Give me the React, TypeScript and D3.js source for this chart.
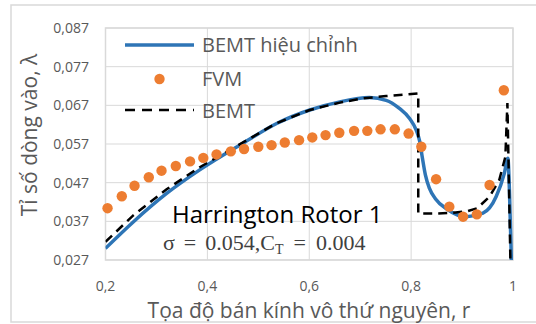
import React from "react";
import * as d3 from "d3";

const W = 536;
const H = 324;

// x ticks / y ticks
const X_TICKS = [0.2, 0.4, 0.6, 0.8, 1];
const X_LABELS = ["0,2", "0,4", "0,6", "0,8", "1"];
const Y_TICKS = [0.027, 0.037, 0.047, 0.057, 0.067, 0.077, 0.087];
const Y_LABELS = ["0,027", "0,037", "0,047", "0,057", "0,067", "0,077", "0,087"];

// FVM points
const FVM_R = [
  0.204, 0.232, 0.257, 0.285, 0.31, 0.338, 0.366, 0.392, 0.418, 0.446,
  0.472, 0.5, 0.526, 0.552, 0.58, 0.606, 0.632, 0.659, 0.688, 0.714,
  0.74, 0.768, 0.795, 0.82, 0.849, 0.875, 0.902, 0.929, 0.954, 0.982,
];
const FVM_L = [
  0.0404, 0.0435, 0.0462, 0.0484, 0.0501, 0.0513, 0.0525, 0.0534, 0.0543, 0.0551,
  0.0557, 0.0563, 0.0567, 0.0574, 0.058, 0.0587, 0.0593, 0.0599, 0.0604, 0.0604,
  0.0608, 0.0608, 0.0597, 0.0563, 0.0479, 0.0408, 0.0382, 0.0388, 0.0464, 0.0709,
];

// BEMT hiệu chỉnh (corrected)
const CORR_R = [
  0.2, 0.255, 0.32, 0.385, 0.47, 0.536, 0.601, 0.66, 0.718, 0.751, 0.777,
  0.797, 0.81, 0.817, 0.822, 0.828, 0.836, 0.848, 0.87, 0.908, 0.941, 0.967,
  0.983, 0.99, 0.993, 0.997,
];
const CORR_L = [
  0.03, 0.0369, 0.0442, 0.0503, 0.0572, 0.0623, 0.0658, 0.0679, 0.069, 0.0683, 0.0662,
  0.0636, 0.0606, 0.0576, 0.0535, 0.049, 0.0455, 0.0428, 0.0402, 0.0382, 0.0391, 0.0434,
  0.0494, 0.0533, 0.045, 0.026,
];

// BEMT
const BEMT_R = [
  0.2, 0.255, 0.32, 0.385, 0.47, 0.536, 0.601, 0.66, 0.705, 0.751, 0.814,
  0.814, 0.85, 0.88, 0.91, 0.93, 0.954, 0.973, 0.985, 0.989, 0.995,
];
const BEMT_L = [
  0.0317, 0.0386, 0.0453, 0.051, 0.0574, 0.0624, 0.0658, 0.0677, 0.0688, 0.0694, 0.0701,
  0.039, 0.039, 0.0392, 0.0396, 0.0404, 0.0434, 0.0477, 0.0537, 0.0676, 0.026,
];

const GRID = "#d9d9d9";
const TXT = "#595959";

export default function App() {
  const x = d3.scaleLinear().domain([0.2, 1]).range([105.5, 513]);
  const y = d3.scaleLinear().domain([0.027, 0.087]).range([260, 28]);

  const corr = CORR_R.map((r, i) => [r, CORR_L[i]] as [number, number]);
  const bemt = BEMT_R.map((r, i) => [r, BEMT_L[i]] as [number, number]);
  const fvm = FVM_R.map((r, i) => [r, FVM_L[i]] as [number, number]);

  const smooth = d3
    .line<[number, number]>()
    .x((d) => x(d[0]))
    .y((d) => y(d[1]))
    .curve(d3.curveMonotoneX);
  const straight = d3
    .line<[number, number]>()
    .x((d) => x(d[0]))
    .y((d) => y(d[1]));

  const [x0, x1] = x.range();
  const [y0, y1] = [y(0.087), y(0.027)];

  return (
    <svg
      width={W}
      height={H}
      style={{ position: "absolute", left: 0, top: 0, background: "#fff" }}
      fontFamily="'Open Sans', sans-serif"
    >
      <defs>
        <clipPath id="plot">
          <rect x={x0} y={y0} width={x1 - x0} height={y1 - y0} />
        </clipPath>
      </defs>
      {/* outer chart frame */}
      <rect x={11} y={5} width={540} height={317} fill="#fff" stroke={GRID} strokeWidth={1.5} />

      {/* gridlines */}
      {Y_TICKS.map((t) => (
        <line key={"gy" + t} x1={x0} x2={x1} y1={y(t)} y2={y(t)} stroke={GRID} strokeWidth={1} />
      ))}
      {X_TICKS.map((t) => (
        <line key={"gx" + t} x1={x(t)} x2={x(t)} y1={y0} y2={y1} stroke={GRID} strokeWidth={1} />
      ))}
      <rect x={x0} y={y0} width={x1 - x0} height={y1 - y0} fill="none" stroke={GRID} strokeWidth={1.5} />

      {/* tick labels */}
      {Y_TICKS.map((t, i) => (
        <text key={"ly" + t} x={89} y={y(t) + 5} textAnchor="end" fontSize={14} fill={TXT}>
          {Y_LABELS[i]}
        </text>
      ))}
      {X_TICKS.map((t, i) => (
        <text key={"lx" + t} x={x(t)} y={291} textAnchor="middle" fontSize={14} fill={TXT}>
          {X_LABELS[i]}
        </text>
      ))}

      {/* axis titles */}
      <text x={309} y={318} textAnchor="middle" fontSize={21} fill={TXT}>
        Tọa độ bán kính vô thứ nguyên, r
      </text>
      <text
        transform="translate(37,135) rotate(-90)"
        textAnchor="middle"
        fontSize={21}
        fill={TXT}
      >
        Tỉ số dòng vào, λ
      </text>

      {/* series */}
      <g clipPath="url(#plot)">
        <path d={smooth(corr) ?? ""} fill="none" stroke="#2e75b6" strokeWidth={3.5} strokeLinejoin="round" />
        <path
          d={straight(bemt) ?? ""}
          fill="none"
          stroke="#000"
          strokeWidth={2.5}
          strokeDasharray="9,6"
        />
      </g>
      {fvm.map((d, i) => (
        <circle key={"f" + i} cx={x(d[0])} cy={y(d[1])} r={5.2} fill="#ed7d31" />
      ))}

      {/* legend */}
      <line x1={125} x2={194} y1={45} y2={45} stroke="#2e75b6" strokeWidth={3.5} />
      <text x={202} y={52} fontSize={20} fill={TXT}>BEMT hiệu chỉnh</text>
      <circle cx={159.5} cy={79} r={5.2} fill="#ed7d31" />
      <text x={202} y={86} fontSize={20} fill={TXT}>FVM</text>
      <line x1={125} x2={194} y1={110} y2={110} stroke="#000" strokeWidth={2.5} strokeDasharray="10,7" />
      <text x={202} y={118} fontSize={20} fill={TXT}>BEMT</text>

      {/* annotation */}
      <text x={172} y={223} fontSize={24} fill="#000">Harrington Rotor 1</text>
      <text x={163} y={250} fontSize={22} fill="#404040" fontFamily="'Liberation Serif', serif">
        <tspan>σ</tspan>
        <tspan dx={9}>=</tspan>
        <tspan dx={9}>0.054,</tspan>
        <tspan>C</tspan>
        <tspan fontSize={14} dy={4}>T</tspan>
        <tspan dx={10} dy={-4}>=</tspan>
        <tspan dx={10}>0.004</tspan>
      </text>
    </svg>
  );
}
